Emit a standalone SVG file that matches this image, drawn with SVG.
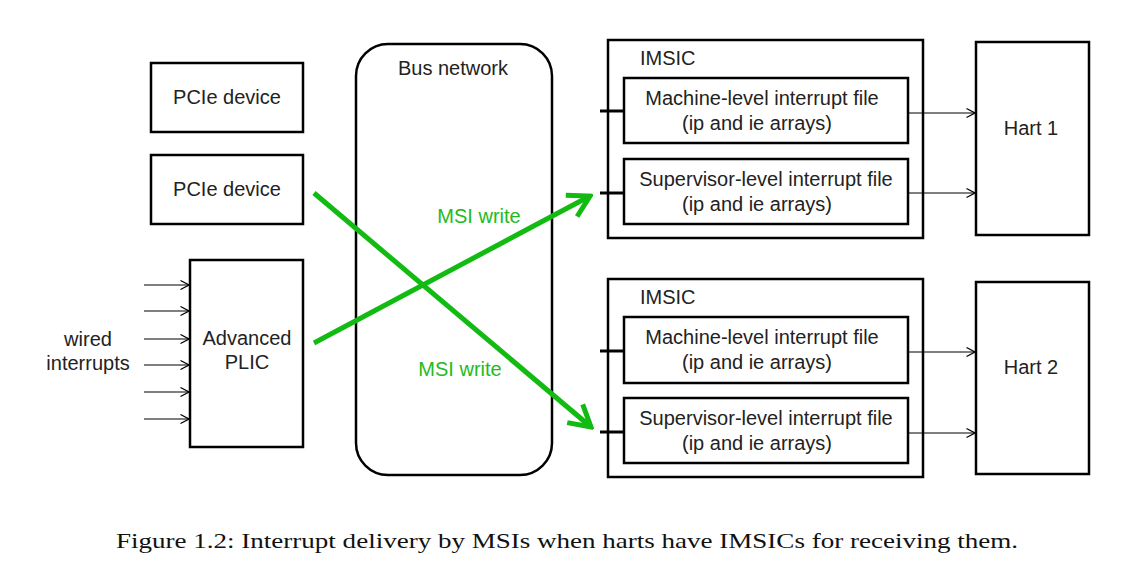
<svg xmlns="http://www.w3.org/2000/svg" width="1121" height="576" viewBox="0 0 1121 576">
<defs>
<style>
.box{fill:#fff;stroke:#000;stroke-width:2.5}
.t{font-family:"Liberation Sans",Arial,sans-serif;font-size:20px;fill:#222;text-anchor:middle}
.tl{font-family:"Liberation Sans",Arial,sans-serif;font-size:20px;fill:#222}
.g{font-family:"Liberation Sans",Arial,sans-serif;font-size:20px;fill:#22bb22;text-anchor:middle}
.thin{stroke:#000;stroke-width:1.2;fill:none}
.stub{stroke:#000;stroke-width:3;fill:none}
.msi{stroke:#11bb11;stroke-width:5;fill:none;stroke-linecap:butt}
</style>
<marker id="ah" viewBox="0 0 10 10" refX="9.5" refY="5" markerWidth="10" markerHeight="10" markerUnits="userSpaceOnUse" orient="auto">
<path d="M1,0.5 L9.5,5 L1,9.5" fill="none" stroke="#000" stroke-width="1.2"/>
</marker>
<marker id="gh" viewBox="0 0 30 30" refX="27" refY="15" markerWidth="30" markerHeight="30" markerUnits="userSpaceOnUse" orient="auto">
<path d="M6,3 L27,15 L6,27" fill="none" stroke="#11bb11" stroke-width="5"/>
</marker>
</defs>
<rect width="1121" height="576" fill="#fff"/>

<g id="pcie1"><rect class="box" x="151" y="63" width="152" height="69"/><text class="t" x="227" y="104">PCIe device</text></g>
<g id="pcie2"><rect class="box" x="151" y="155" width="152" height="69"/><text class="t" x="227" y="196">PCIe device</text></g>
<g id="plic"><rect class="box" x="190" y="260" width="113" height="187"/><text class="t" x="247" y="345">Advanced</text><text class="t" x="247" y="369">PLIC</text></g>
<g id="wired"><text class="t" x="88" y="346">wired</text><text class="t" x="88" y="370">interrupts</text></g>
<g id="bus"><rect class="box" x="356" y="44" width="196" height="431" rx="32" ry="32"/><text class="t" x="453" y="75">Bus network</text></g>

<g id="imsic1"><rect class="box" x="608" y="40" width="315" height="198"/><text class="tl" x="640" y="65">IMSIC</text></g>
<g id="mfile1"><rect class="box" x="624" y="78" width="284" height="65"/><text class="t" x="762" y="105">Machine-level interrupt file</text><text class="t" x="757" y="130">(ip and ie arrays)</text></g>
<g id="sfile1"><rect class="box" x="624" y="159" width="284" height="65"/><text class="t" x="766" y="186">Supervisor-level interrupt file</text><text class="t" x="757" y="211">(ip and ie arrays)</text></g>
<g id="hart1"><rect class="box" x="976" y="42" width="113" height="193"/><text class="t" x="1031" y="135">Hart 1</text></g>

<g id="imsic2"><rect class="box" x="608" y="279" width="315" height="198"/><text class="tl" x="640" y="304">IMSIC</text></g>
<g id="mfile2"><rect class="box" x="624" y="317" width="284" height="66"/><text class="t" x="762" y="344">Machine-level interrupt file</text><text class="t" x="757" y="369">(ip and ie arrays)</text></g>
<g id="sfile2"><rect class="box" x="624" y="398" width="284" height="65"/><text class="t" x="766" y="425">Supervisor-level interrupt file</text><text class="t" x="757" y="450">(ip and ie arrays)</text></g>
<g id="hart2"><rect class="box" x="976" y="282" width="113" height="192"/><text class="t" x="1031" y="374">Hart 2</text></g>

<g id="connectors">
<line class="thin" x1="144" y1="285" x2="189" y2="285" marker-end="url(#ah)"/>
<line class="thin" x1="144" y1="311" x2="189" y2="311" marker-end="url(#ah)"/>
<line class="thin" x1="144" y1="339" x2="189" y2="339" marker-end="url(#ah)"/>
<line class="thin" x1="144" y1="365" x2="189" y2="365" marker-end="url(#ah)"/>
<line class="thin" x1="144" y1="392" x2="189" y2="392" marker-end="url(#ah)"/>
<line class="thin" x1="144" y1="419" x2="189" y2="419" marker-end="url(#ah)"/>

<line class="stub" x1="600" y1="111" x2="624" y2="111"/>
<line class="stub" x1="600" y1="193" x2="624" y2="193"/>
<line class="stub" x1="600" y1="351" x2="624" y2="351"/>
<line class="stub" x1="600" y1="432" x2="624" y2="432"/>

<line class="thin" x1="908" y1="113" x2="975" y2="113" marker-end="url(#ah)"/>
<line class="thin" x1="908" y1="193" x2="975" y2="193" marker-end="url(#ah)"/>
<line class="thin" x1="908" y1="352" x2="975" y2="352" marker-end="url(#ah)"/>
<line class="thin" x1="908" y1="433" x2="975" y2="433" marker-end="url(#ah)"/>

<line class="msi" x1="314" y1="193" x2="591" y2="427" marker-end="url(#gh)"/>
<line class="msi" x1="314" y1="343" x2="590" y2="196" marker-end="url(#gh)"/>
<text class="g" x="479" y="223">MSI write</text>
<text class="g" x="460" y="376">MSI write</text>
</g>

<text x="567" y="548" font-family="'Liberation Serif','Times New Roman',serif" font-size="21" fill="#111" text-anchor="middle" textLength="902" lengthAdjust="spacingAndGlyphs">Figure 1.2: Interrupt delivery by MSIs when harts have IMSICs for receiving them.</text>
</svg>
